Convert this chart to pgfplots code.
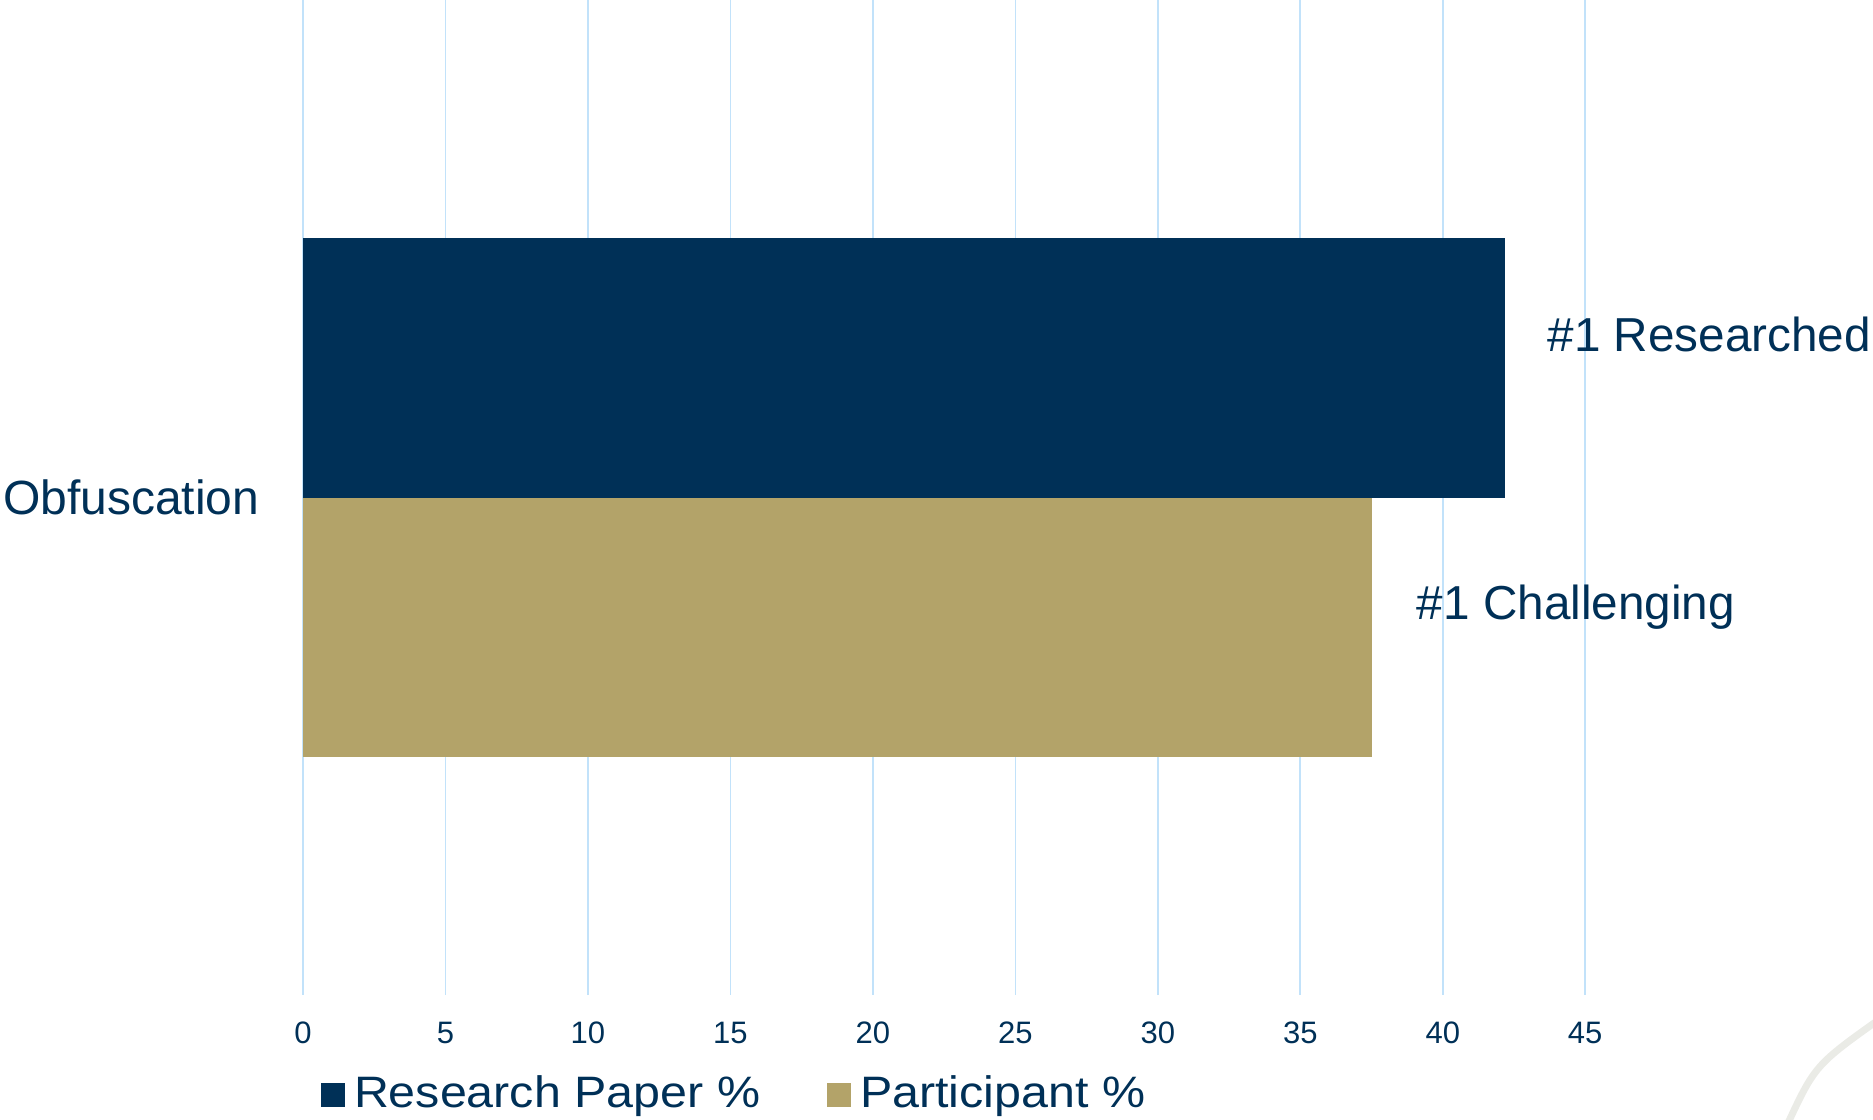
\documentclass[border=0pt]{standalone}
\usepackage{fontspec}
\setmainfont{Liberation Sans}
\usepackage{pgfplots}
\pgfplotsset{compat=1.18}
\definecolor{gtnavy}{RGB}{0,48,87}
\definecolor{gtgold}{RGB}{179,163,105}
\definecolor{gridblue}{RGB}{194,226,250}
\definecolor{arcgray}{RGB}{234,235,230}
\pgfplotsset{sqlegend/.style={legend image code/.code={\draw[##1,draw=none] (0pt,-3.6pt) rectangle (7.2pt,3.6pt);}}}
\begin{document}
\begin{tikzpicture}
\path[use as bounding box] (-90.9pt,0pt) rectangle (471pt,-335.7pt);
\begin{axis}[
  at={(0pt,0pt)}, anchor=north west,
  scale only axis, width=471pt, height=298.5pt,
  xmin=0, xmax=55.1, ymin=-1, ymax=1,
  xtick={0,5,...,45}, ytick={0}, yticklabels={Obfuscation},
  xmajorgrids, grid style={gridblue, line width=0.5pt},
  axis line style={draw=none}, major tick length=0pt,
  /pgf/number format/assume math mode=true,
  x tick label style={font=\fontsize{9.3}{11}\selectfont, text=gtnavy, anchor=base, inner sep=0pt, yshift=-14.4pt},
  y tick label style={font=\fontsize{14.4}{17}\selectfont, text=gtnavy, anchor=east, inner sep=0pt, xshift=-12.9pt},
  clip=false,
  legend columns=2,
  legend style={draw=none, fill=none, inner sep=0pt,
    at={(axis description cs:0.01083,-0.1)}, anchor=west,
    nodes={inner sep=0pt, text depth=0.15em},
    font=\fontsize{13.2}{15}\selectfont, text=gtnavy,
    /tikz/every odd column/.append style={column sep=2.8pt},
    /tikz/every even column/.append style={column sep=20pt}},
]
\addplot[xbar, bar width=0.5216, bar shift=0pt, fill=gtnavy, draw=none, sqlegend] coordinates {(42.2,0.2608)};
\addlegendentry{\scalebox{1.1}[1]{Research Paper \%}}
\addplot[xbar, bar width=0.5216, bar shift=0pt, fill=gtgold, draw=none, sqlegend] coordinates {(37.5,-0.2608)};
\addlegendentry{\scalebox{1.1}[1]{Participant \%}}
\node[anchor=base west, inner sep=0pt, font=\fontsize{14.3}{17}\selectfont, text=gtnavy] at (axis cs:43.66,0.2925) {\#1 Researched};
\node[anchor=base west, inner sep=0pt, font=\fontsize{14.3}{17}\selectfont, text=gtnavy] at (axis cs:39.07,-0.246) {\#1 Challenging};
\end{axis}
\draw[arcgray, line width=2.1pt] (445pt,-338pt) .. controls (453.6pt,-319.5pt) .. (474pt,-305pt);
\end{tikzpicture}
\end{document}
